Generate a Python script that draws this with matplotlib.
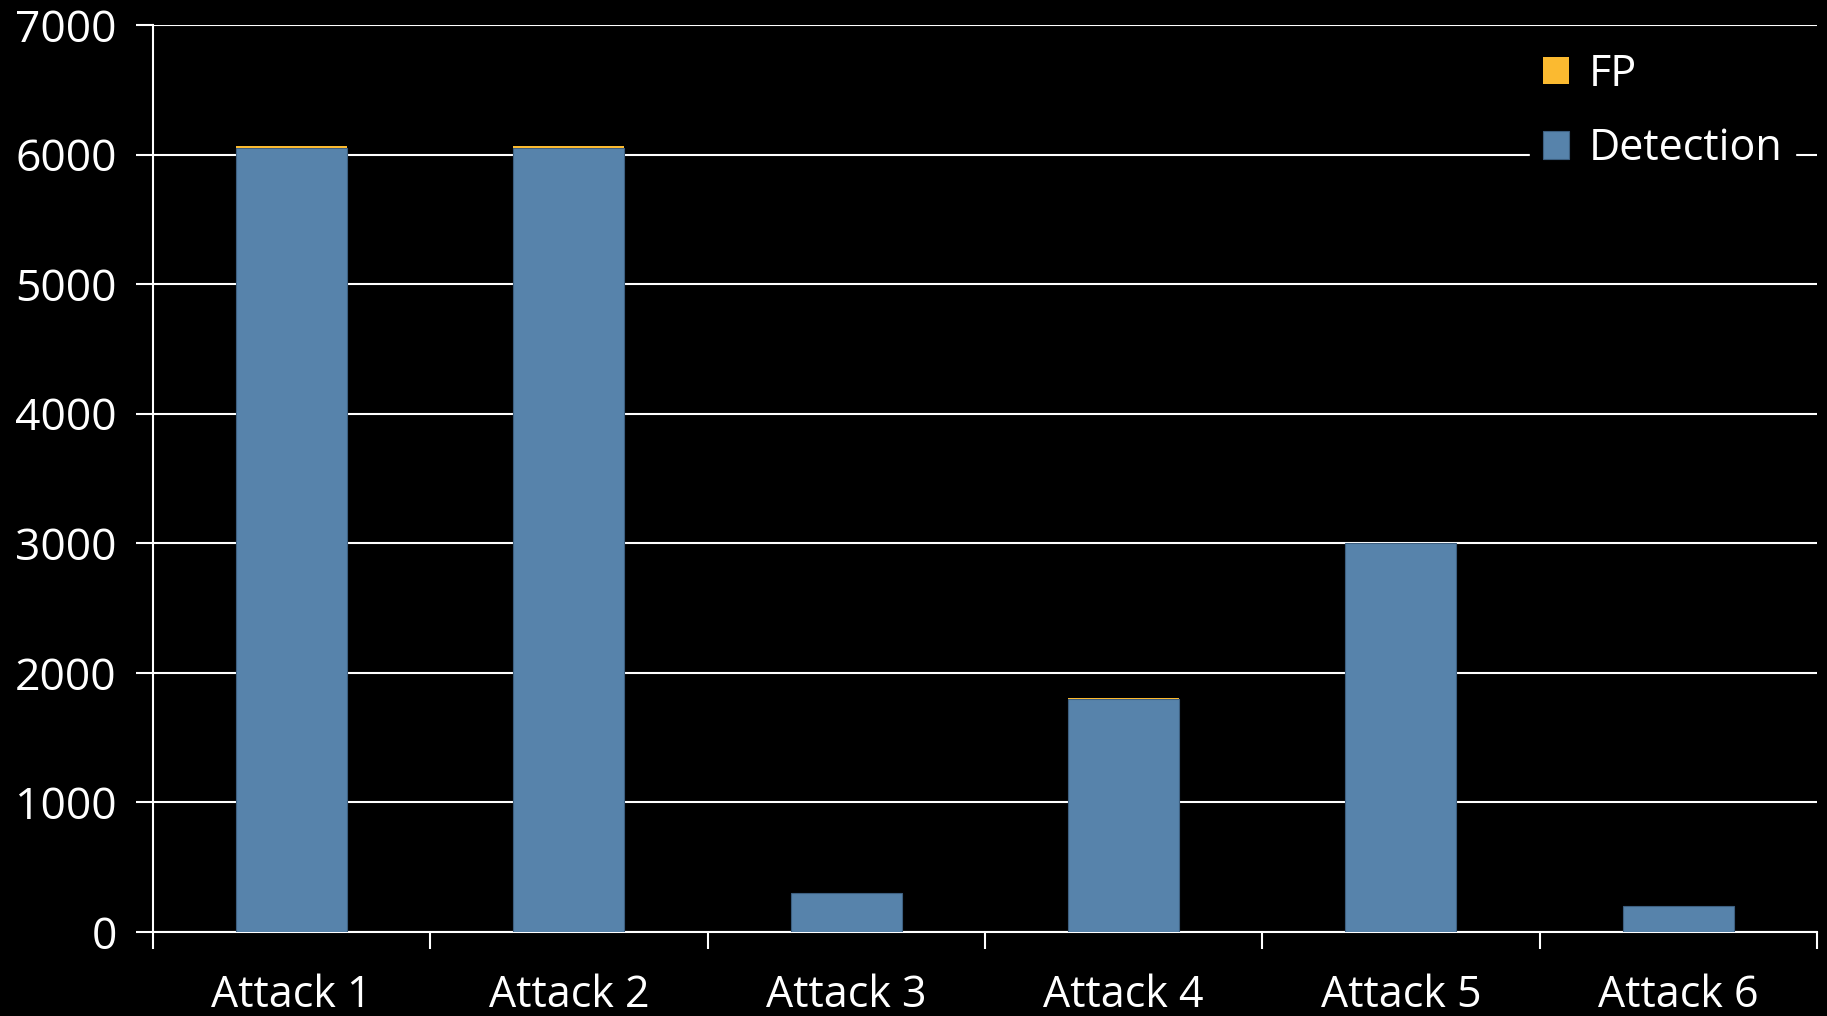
import matplotlib
matplotlib.use("Agg")
import matplotlib.pyplot as plt
import numpy as np

# values
attacks = ["Attack 1", "Attack 2", "Attack 3", "Attack 4", "Attack 5", "Attack 6"]
detection = [6050, 6050, 300, 1800, 3000, 200]
fp = [15, 15, 3, 5, 2, 2]
y_ticks = [0, 1000, 2000, 3000, 4000, 5000, 6000, 7000]

blue = "#5783AB"
orange = "#FBBA30"

plt.rcParams["font.family"] = ["Open Sans", "DejaVu Sans"]

fig = plt.figure(figsize=(18.27, 10.16), dpi=100, facecolor="black")
ax = fig.add_axes([0.0837, 0.0827, 0.9108, 0.8927], facecolor="black")

x = np.arange(len(attacks))
b1 = ax.bar(x, detection, width=0.4, color=blue, edgecolor="#3d5f80", linewidth=0.8, zorder=3)
b2 = ax.bar(x, fp, bottom=detection, width=0.4, color=orange, linewidth=0, zorder=3)

ax.set_xlim(-0.5, len(attacks) - 0.5)
ax.set_ylim(0, 7000)
ax.set_yticks(y_ticks)
ax.yaxis.grid(True, color="white", linewidth=1.5, zorder=0)
ax.set_axisbelow(True)

ax.set_xticks(x)
ax.set_xticklabels(attacks)
ax.set_xticks(np.arange(len(attacks) + 1) - 0.5, minor=True)
ax.tick_params(axis="x", which="major", length=0, pad=30, labelsize=31, colors="white")
ax.tick_params(axis="x", which="minor", length=12, width=1.5, color="white")
ax.tick_params(axis="y", length=12, width=1.5, color="white", labelcolor="white", labelsize=32, pad=14)

for side in ["top", "right"]:
    ax.spines[side].set_visible(False)
for side in ["left", "bottom"]:
    ax.spines[side].set_color("white")
    ax.spines[side].set_linewidth(1.5)

leg = ax.legend([b2, b1], ["FP", "Detection"], loc="upper right",
                bbox_to_anchor=(1.0, 1.008), frameon=True, fontsize=31,
                handlelength=0.62, handleheight=0.62, handletextpad=0.45,
                labelspacing=0.7, borderpad=0.3, labelcolor="white")
leg.get_frame().set_facecolor("black")
leg.get_frame().set_edgecolor("black")
leg.get_frame().set_alpha(1)
leg.set_zorder(5)

fig.savefig("out.png", dpi=100, facecolor="black")
